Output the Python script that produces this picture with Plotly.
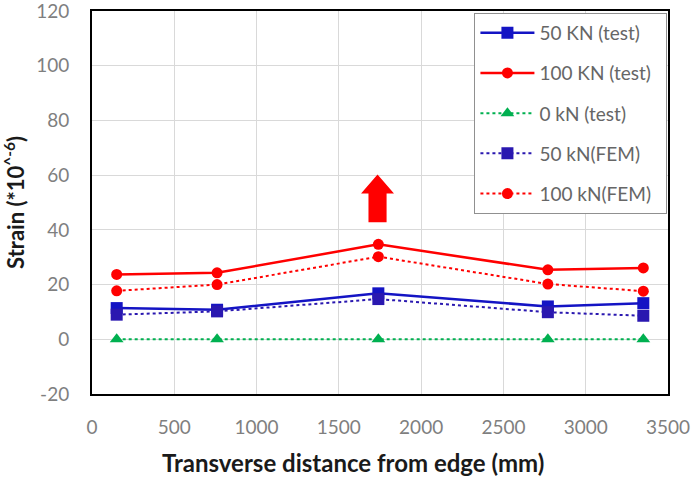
import plotly.graph_objects as go

x_mm = [150, 760, 1740, 2770, 3350]
s50_test = [11.4, 10.8, 16.8, 12.0, 13.2]
s100_test = [23.7, 24.3, 34.7, 25.4, 26.1]
s0_test = [0, 0, 0, 0, 0]
s50_fem = [9.0, 10.2, 14.7, 9.9, 8.6]
s100_fem = [17.7, 20.0, 30.2, 20.2, 17.6]

y_tickvals = [-20, 0, 20, 40, 60, 80, 100, 120]
y_ticktext = ["-20", "0", "20", "40", "60", "80", "100", "120"]

names = ["50 KN (test)", "100 KN (test)", "0 kN (test)", "50 kN(FEM)", "100 kN(FEM)"]
series = [s50_test, s100_test, s0_test, s50_fem, s100_fem]
colors = ["#1414c4", "#ff0000", "#00b050", "#2a18b0", "#ff0000"]
dashes = ["solid", "solid", "dot", "dot", "dot"]
widths = [2.5, 2.5, 2, 2, 2]
symbols = ["square", "circle", "triangle-up", "square", "circle"]
msizes = [12, 11, 12, 12, 11]

fig = go.Figure()
for i in range(5):
    fig.add_trace(go.Scatter(
        x=x_mm, y=series[i], name=names[i] + "\u00a0\u00a0", mode="lines+markers",
        legendgroup="g%d" % i,
        line=dict(color=colors[i], dash=dashes[i], width=widths[i]),
        marker=dict(symbol=symbols[i], size=msizes[i], color=colors[i]),
    ))

# red up arrow (annotation)
ax_c, hw, sw = 1735, 100, 55
y_bot, y_head, y_tip = 42.8, 53.3, 60.2
path = (f"M {ax_c-sw},{y_bot} L {ax_c+sw},{y_bot} L {ax_c+sw},{y_head} L {ax_c+hw},{y_head} "
        f"L {ax_c},{y_tip} L {ax_c-hw},{y_head} L {ax_c-sw},{y_head} Z")
fig.add_shape(type="path", path=path, xref="x", yref="y", fillcolor="#ff0000",
              line=dict(width=0))

font_main = "Lato, 'Open Sans', sans-serif"

fig.add_annotation(
    text="<b>Transverse distance from edge (mm)</b>",
    xref="paper", yref="paper", x=0.453, y=-0.18,
    xanchor="center", yanchor="middle", showarrow=False,
    font=dict(size=24, color="#1a1a1a", family=font_main),
)

fig.update_layout(
    width=694, height=480,
    margin=dict(l=92, r=26, t=11, b=86),
    paper_bgcolor="white", plot_bgcolor="white",
    font=dict(family=font_main, color="#7f7f7f", size=19),
    showlegend=True,
    legend=dict(
        x=0.999, xanchor="right", y=0.995, yanchor="top",
        bgcolor="white", bordercolor="#909090", borderwidth=1,
        font=dict(size=19, color="#666666", family=font_main),
        traceorder="grouped", tracegroupgap=12.5,
        itemwidth=54,
    ),
    xaxis=dict(
        range=[0, 3500], dtick=500, tick0=0, automargin=False,
        showgrid=True, gridcolor="#d9d9d9", gridwidth=1,
        showline=True, linecolor="black", linewidth=2, mirror=True,
        zeroline=False, ticks="", ticklabelstandoff=15,
        ticklabeloverflow="allow",
        tickfont=dict(size=19, color="#7f7f7f"),
    ),
    yaxis=dict(
        range=[-20, 120], tickmode="array", tickvals=y_tickvals, ticktext=y_ticktext,
        automargin=False,
        showgrid=True, gridcolor="#d9d9d9", gridwidth=1,
        showline=True, linecolor="black", linewidth=2, mirror=True,
        zeroline=False, ticks="", ticklabelstandoff=17,
        ticklabeloverflow="allow",
        tickfont=dict(size=19, color="#7f7f7f"),
        title=dict(text="<b>Strain (*10<sup>^-6</sup>)</b>",
                   font=dict(size=22, color="#1a1a1a"), standoff=10),
    ),
)

fig.write_html("out.html")
